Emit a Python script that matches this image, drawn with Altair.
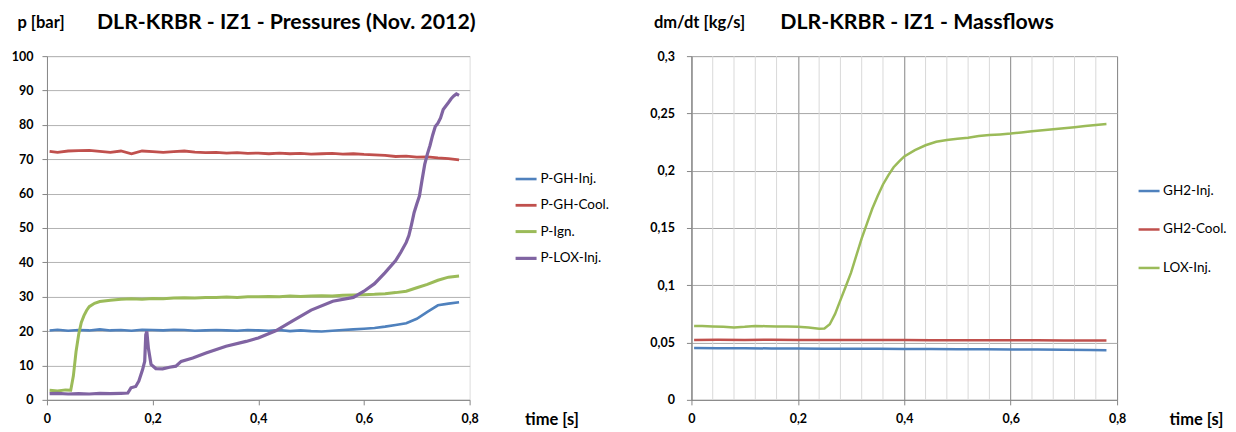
import altair as alt
import pandas as pd

FONT = "Lato"

# ---------------- Left panel: pressures [bar] ----------------
left_series = ["P-GH-Inj.", "P-GH-Cool.", "P-Ign.", "P-LOX-Inj."]
left_colors = ["#4F81BD", "#C0504D", "#9BBB59", "#8064A2"]

gh_t = [0.005, 0.02, 0.04, 0.06, 0.08, 0.10, 0.12, 0.14, 0.16, 0.18, 0.20, 0.22, 0.24,
        0.26, 0.28, 0.30, 0.32, 0.34, 0.36, 0.38, 0.40, 0.42, 0.44, 0.46, 0.48, 0.50,
        0.52, 0.54, 0.56, 0.58, 0.60, 0.62, 0.64, 0.66, 0.68, 0.70, 0.72, 0.74, 0.76, 0.78]
gh_inj_p = [20.2, 20.4, 20.1, 20.3, 20.2, 20.5, 20.2, 20.3, 20.1, 20.4, 20.3, 20.2, 20.4,
            20.3, 20.1, 20.2, 20.3, 20.2, 20.1, 20.3, 20.2, 20.1, 20.3, 20.0, 20.2, 20.0,
            19.9, 20.1, 20.3, 20.5, 20.7, 20.9, 21.3, 21.8, 22.3, 23.6, 25.6, 27.5, 28.0, 28.4]
gh_cool_p = [72.3, 72.0, 72.4, 72.5, 72.6, 72.3, 72.0, 72.4, 71.6, 72.4, 72.2, 72.0, 72.2,
             72.4, 72.1, 71.9, 72.0, 71.8, 71.9, 71.7, 71.8, 71.6, 71.8, 71.6, 71.7, 71.5,
             71.6, 71.7, 71.5, 71.6, 71.4, 71.3, 71.1, 70.8, 70.9, 70.6, 70.7, 70.4, 70.2, 69.8]

ign_t = [0.005, 0.02, 0.035, 0.045, 0.05, 0.055, 0.06, 0.065, 0.07, 0.075, 0.08, 0.09, 0.10,
         0.12, 0.14, 0.16, 0.18, 0.20, 0.22, 0.24, 0.26, 0.28, 0.30, 0.32, 0.34, 0.36, 0.38,
         0.40, 0.42, 0.44, 0.46, 0.48, 0.50, 0.52, 0.54, 0.56, 0.58, 0.60, 0.62, 0.64, 0.66,
         0.68, 0.70, 0.72, 0.74, 0.76, 0.78]
ign_p = [2.8, 2.6, 2.9, 2.8, 7.0, 14.0, 19.0, 22.5, 24.5, 26.0, 27.1, 28.1, 28.6,
         29.0, 29.3, 29.4, 29.3, 29.5, 29.4, 29.6, 29.7, 29.6, 29.8, 29.8, 29.9, 29.8, 30.0,
         30.0, 30.1, 30.0, 30.2, 30.1, 30.2, 30.3, 30.2, 30.4, 30.5, 30.6, 30.7, 30.9, 31.2,
         31.6, 32.6, 33.6, 34.8, 35.7, 36.0]

lox_t = [0.005, 0.02, 0.04, 0.06, 0.08, 0.10, 0.12, 0.14,
         0.153, 0.159, 0.168, 0.174, 0.181, 0.185, 0.187, 0.189, 0.192, 0.197,
         0.206, 0.219, 0.232, 0.244, 0.254, 0.276, 0.301, 0.339, 0.377, 0.40,
         0.433, 0.465, 0.50, 0.541, 0.58, 0.60, 0.62, 0.64, 0.66, 0.67,
         0.68, 0.685, 0.69, 0.695, 0.70, 0.705, 0.71, 0.715, 0.72, 0.725,
         0.73, 0.735, 0.74, 0.745, 0.75, 0.755, 0.76, 0.765, 0.77, 0.775, 0.78]
lox_p = [1.8, 1.9, 1.7, 1.8, 1.7, 1.9, 1.8, 1.9,
         2.0, 3.5, 3.9, 5.5, 8.8, 11.2, 18.9, 19.9, 15.0, 10.3,
         9.1, 9.0, 9.5, 9.8, 11.2, 12.2, 13.6, 15.6, 17.0, 18.0,
         20.1, 23.0, 26.1, 28.7, 29.8, 31.6, 33.8, 37.0, 40.5, 43.0,
         45.8, 47.8, 51.0, 54.5, 57.0, 59.3, 64.0, 68.5, 71.5, 74.0,
         77.0, 79.5, 80.5, 82.0, 84.5, 85.5, 86.5, 87.6, 88.4, 89.0, 88.6]

# ---------------- Right panel: massflows [kg/s] ----------------
right_series = ["GH2-Inj.", "GH2-Cool.", "LOX-Inj."]
right_colors = ["#4F81BD", "#C0504D", "#9BBB59"]

mf_t = [0.005, 0.05, 0.10, 0.15, 0.20, 0.25, 0.30, 0.35, 0.40, 0.45, 0.50, 0.55, 0.60,
        0.65, 0.70, 0.75, 0.78]
gh2_inj = [0.0452, 0.0451, 0.0450, 0.0449, 0.0448, 0.0447, 0.0446, 0.0445, 0.0444,
           0.0443, 0.0442, 0.0441, 0.0440, 0.0439, 0.0437, 0.0435, 0.0434]
gh2_cool = [0.0523, 0.0524, 0.0523, 0.0524, 0.0523, 0.0523, 0.0522, 0.0522, 0.0522,
            0.0521, 0.0521, 0.0521, 0.0520, 0.0520, 0.0519, 0.0519, 0.0518]

loxm_t = [0.005, 0.02, 0.04, 0.06, 0.08, 0.10, 0.12, 0.14, 0.16, 0.18, 0.20, 0.22, 0.24,
          0.25, 0.26, 0.27, 0.28, 0.29, 0.30, 0.31, 0.32, 0.33, 0.34, 0.35, 0.36, 0.37,
          0.38, 0.39, 0.40, 0.42, 0.44, 0.46, 0.48, 0.50, 0.52, 0.54, 0.56, 0.58, 0.60,
          0.62, 0.64, 0.66, 0.68, 0.70, 0.72, 0.74, 0.76, 0.78]
loxm = [0.0645, 0.0644, 0.0641, 0.0637, 0.0632, 0.0637, 0.0645, 0.0643, 0.0641, 0.0640,
        0.0638, 0.0631, 0.0621, 0.0623, 0.066, 0.075, 0.087, 0.099, 0.111, 0.126, 0.141,
        0.154, 0.167, 0.178, 0.188, 0.196, 0.203, 0.208, 0.2125, 0.218, 0.2222, 0.2252,
        0.2268, 0.2278, 0.2288, 0.2302, 0.2312, 0.2317, 0.2324, 0.2334, 0.2344, 0.2354,
        0.2362, 0.2371, 0.2380, 0.2390, 0.2399, 0.2407]

# ---------------- Tick values ----------------
x_ticks = [0, 0.2, 0.4, 0.6, 0.8]
x_minor = [0.04, 0.08, 0.12, 0.16, 0.24, 0.28, 0.32, 0.36, 0.44, 0.48, 0.52, 0.56,
           0.64, 0.68, 0.72, 0.76]
yl_ticks = [0, 10, 20, 30, 40, 50, 60, 70, 80, 90, 100]
yr_ticks = [0, 0.05, 0.1, 0.15, 0.2, 0.25, 0.3]

left_df = pd.concat([
    pd.DataFrame({"t": gh_t, "v": gh_inj_p, "s": left_series[0]}),
    pd.DataFrame({"t": gh_t, "v": gh_cool_p, "s": left_series[1]}),
    pd.DataFrame({"t": ign_t, "v": ign_p, "s": left_series[2]}),
    pd.DataFrame({"t": lox_t, "v": lox_p, "s": left_series[3]}),
], ignore_index=True)

right_df = pd.concat([
    pd.DataFrame({"t": mf_t, "v": gh2_inj, "s": right_series[0]}),
    pd.DataFrame({"t": mf_t, "v": gh2_cool, "s": right_series[1]}),
    pd.DataFrame({"t": loxm_t, "v": loxm, "s": right_series[2]}),
], ignore_index=True)
minor_df = pd.DataFrame({"t": x_minor})

COMMA = "replace(format(datum.value, '~g'), '.', ',')"
AXIS_GRAY = "#868686"

common_axis = dict(
    labelExpr=COMMA, labelFont=FONT, labelFontSize=12.5, labelFontWeight="bold",
    labelColor="black", labelFlush=False, labelOverlap=False,
    tickSize=5, tickColor=AXIS_GRAY, domainColor=AXIS_GRAY,
    titleFont=FONT, titleFontSize=16.5, titleFontWeight="bold", titleColor="black",
    titleAngle=0, titleAlign="left", titleBaseline="middle",
)

W_L, W_R, H = 423, 426, 344

def x_enc(grid, grid_color):
    return alt.X("t:Q", scale=alt.Scale(domain=[0, 0.8], nice=False, zero=False),
                 axis=alt.Axis(values=x_ticks, grid=grid, gridColor=grid_color,
                               title="time [s]", titleX=478, titleY=20,
                               labelPadding=8, **common_axis))

def legend(x, y, row_pad):
    return alt.Legend(title=None, orient="none", legendX=x, legendY=y,
                      symbolType="stroke", symbolSize=441, symbolStrokeWidth=2.5,
                      labelFont=FONT, labelFontSize=13.5, labelColor="black",
                      labelOffset=2, rowPadding=row_pad, padding=0)

def title(text, dx):
    return alt.TitleParams(text, anchor="start", dx=dx, dy=19, font=FONT, fontSize=21.3,
                           fontWeight="bold", color="black", offset=0, frame="group")

left = alt.Chart(left_df).mark_line().encode(
    x=x_enc(False, "#b3b3b3"),
    y=alt.Y("v:Q", scale=alt.Scale(domain=[0, 100], nice=False),
            axis=alt.Axis(values=yl_ticks, grid=True, gridColor="#b3b3b3",
                          title="p [bar]", titleX=-30, titleY=-34, labelPadding=9,
                          **common_axis)),
    color=alt.Color("s:N", scale=alt.Scale(domain=left_series, range=left_colors),
                    sort=left_series, legend=legend(467, 111, 7.3)),
    strokeWidth=alt.StrokeWidth("s:N", scale=alt.Scale(domain=left_series,
                                                        range=[2.6, 3.2, 2.6, 2.2]),
                                legend=None),
).properties(width=W_L, height=H, title=title("DLR-KRBR - IZ1 - Pressures (Nov. 2012)", 50))

minor_rules = alt.Chart(minor_df).mark_rule(color="#d9d9d9", strokeWidth=1).encode(
    x=x_enc(True, AXIS_GRAY)
)

right_lines = alt.Chart(right_df).mark_line().encode(
    x=x_enc(True, AXIS_GRAY),
    y=alt.Y("v:Q", scale=alt.Scale(domain=[0, 0.3], nice=False),
            axis=alt.Axis(values=yr_ticks, grid=True, gridColor="#a6a6a6",
                          title="dm/dt [kg/s]", titleX=-38, titleY=-34, labelPadding=12,
                          **common_axis)),
    color=alt.Color("s:N", scale=alt.Scale(domain=right_series, range=right_colors),
                    sort=right_series, legend=legend(446, 123, 19.5)),
    strokeWidth=alt.StrokeWidth("s:N", scale=alt.Scale(domain=right_series,
                                                        range=[2.5, 2.5, 4]),
                                legend=None),
)

right = alt.layer(minor_rules, right_lines).properties(
    width=W_R, height=H, title=title("DLR-KRBR - IZ1 - Massflows", 89))

chart = alt.hconcat(left, right, spacing=222, bounds="flush").resolve_scale(
    color="independent", strokeWidth="independent"
).properties(
    padding={"left": 2, "top": 3, "right": 0, "bottom": 0},
).configure_view(stroke=None).configure(background="white")

chart.save("out.html", embed_options={"renderer": "svg", "actions": False})
